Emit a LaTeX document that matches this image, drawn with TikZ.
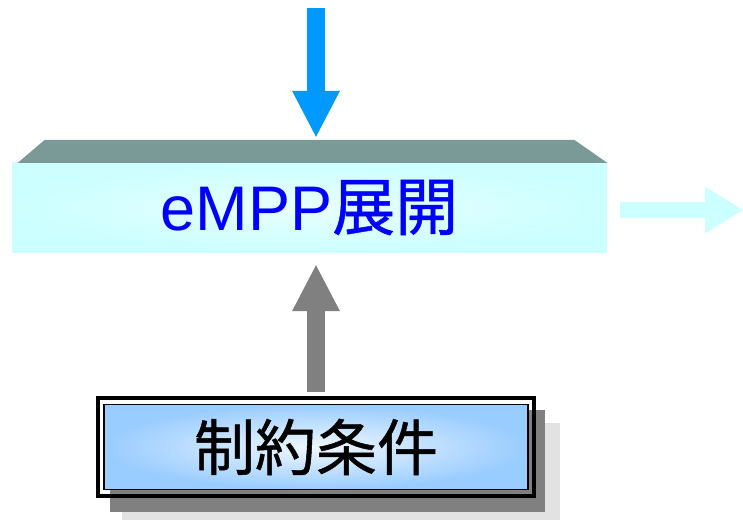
\documentclass[tikz,border=0pt]{standalone}
\usepackage{fontspec}
\setmainfont{Noto Sans CJK JP}[FakeBold=0.8]
\newfontfamily\latinsans{Liberation Sans}
\usetikzlibrary{arrows.meta}
\definecolor{skyblue}{RGB}{0,153,255}
\definecolor{palecyan}{RGB}{204,255,255}
\definecolor{lidgray}{RGB}{122,154,152}
\definecolor{boxblue}{RGB}{153,204,255}
\definecolor{shadegray}{RGB}{128,128,128}
\definecolor{lightshade}{RGB}{226,226,226}
\begin{document}
\begin{tikzpicture}
[x=1pt,y=1pt,
 front/.style={minimum width=595pt,minimum height=89pt,inner sep=0pt,
   inner color=white!55!palecyan,outer color=palecyan,text=blue,
   font=\fontsize{63}{70}\selectfont},
 constbox/.style={minimum width=424pt,minimum height=85pt,inner sep=0pt,
   draw=black,line width=1.5pt,inner color=white!85!boxblue,outer color=boxblue,
   font=\fontsize{61}{66}\selectfont},
 blockarrow/.style={line width=18pt,-{Triangle[width=48pt,length=46pt,line width=0pt]}},
 outarrow/.style={line width=16pt,-{Triangle[width=47pt,length=38pt,line width=0pt]}}]
 \useasboundingbox (0,0) rectangle (743,520);

 \node[front] (mpp) at (309.5,312.5) {{\latinsans eMPP}展開};
 \coordinate (lidL) at ([xshift=33pt,yshift=23pt]mpp.north west);
 \coordinate (lidR) at ([xshift=-33pt,yshift=23pt]mpp.north east);
 \fill[lidgray] ([xshift=6pt]mpp.north west) -- (mpp.north east) -- (lidR) -- (lidL) -- cycle;

 % shadows of the constraint box
 \fill[lightshade] (122,0) rectangle (560,97);
 \fill[shadegray] (110,8) rectangle (545,110);
 \node[constbox] (cons) at (316,73) {制約条件};
 \draw[line width=4pt] ([shift={(-5.5pt,-5.5pt)}]cons.south west) rectangle ([shift={(5.5pt,5.5pt)}]cons.north east);

 \coordinate (feed) at (316,512);
 \coordinate (out) at (743,310);
 \draw[blockarrow,skyblue] (feed) -- ([yshift=3pt]feed |- lidL);
 \draw[blockarrow,shadegray] ([yshift=11.5pt]cons.north) -- ([yshift=-13pt]cons.north |- mpp.south);
 \draw[outarrow,palecyan] ([xshift=13pt]mpp.east |- out) -- (out);
\end{tikzpicture}
\end{document}
